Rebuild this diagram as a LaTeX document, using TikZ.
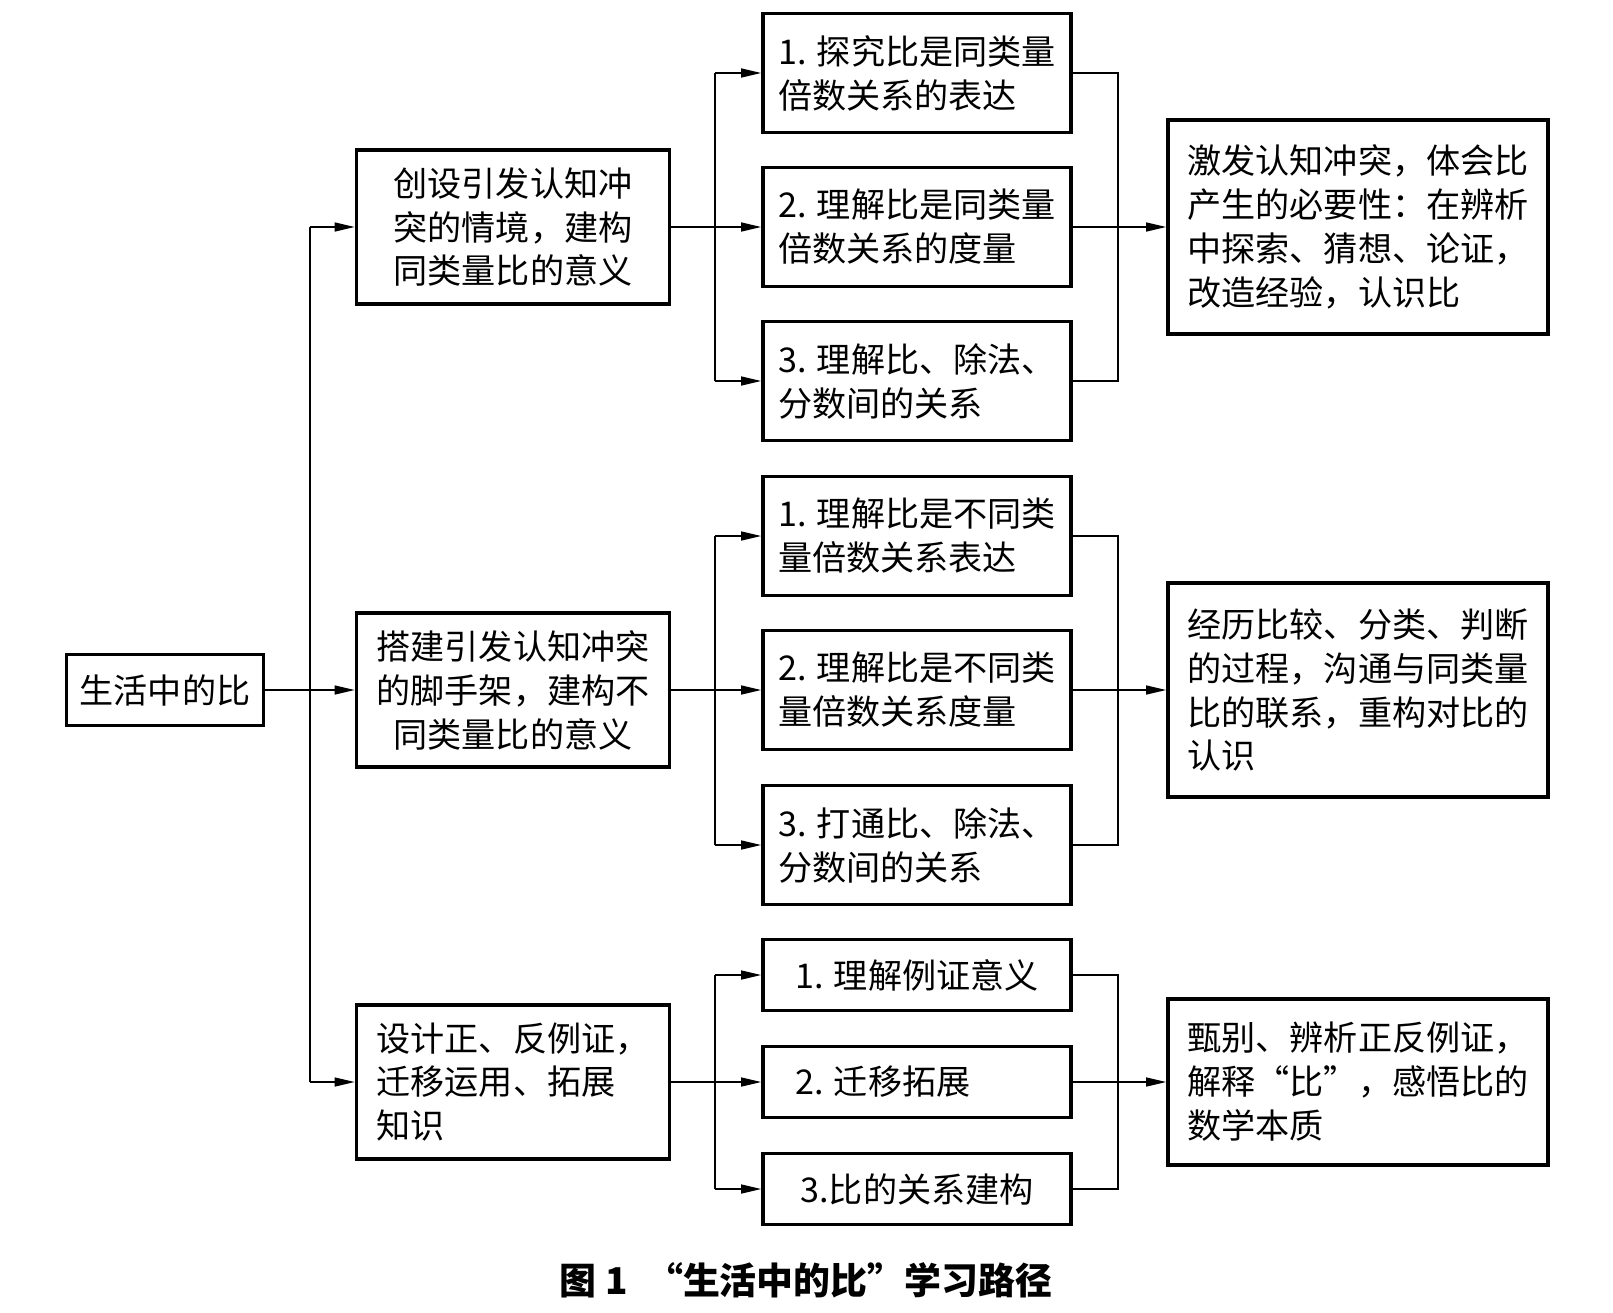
\documentclass[tikz,border=0pt]{standalone}
\usepackage{fontspec}
\newfontfamily\cjk{Noto Sans CJK SC}
\usetikzlibrary{arrows.meta, positioning}

\tikzset{
  box/.style={draw, line width=1pt, inner sep=2pt, align=left, font=\cjk\fontsize{9.7}{12.5}\selectfont},
  arr/.style={-{Triangle[length=2mm, width=0.9mm]}},
}

\begin{document}
\begin{tikzpicture}[x=0.01cm, y=-0.01cm, line width=0.4pt]

\pgfdeclarelayer{bg}    % lines behind the boxes
\pgfsetlayers{bg,main}

\useasboundingbox (0,0) rectangle (1613,1312);

% root
\node (root)[box, minimum width=1.97cm, minimum height=0.71cm] at (165,690) {生活中的比};

% second column
\node (m1)[box, align=center, minimum width=3.13cm, minimum height=1.54cm] at (513,227) {创设引发认知冲\\突的情境，建构\\同类量比的意义};
\node (m2)[box, align=center, minimum width=3.13cm, minimum height=1.54cm] at (513,690) {搭建引发认知冲突\\的脚手架，建构不\\同类量比的意义};
\node (m3)[box, minimum width=3.13cm, minimum height=1.54cm] at (513,1082) {设计正、反例证，\\迁移运用、拓展\\知识};

% third column
\node (s1a)[box, minimum width=3.08cm, minimum height=1.19cm] at (917,73) {1. 探究比是同类量\\倍数关系的表达};
\node (s1b)[box, minimum width=3.08cm, minimum height=1.19cm] at (917,227) {2. 理解比是同类量\\倍数关系的度量};
\node (s1c)[box, minimum width=3.08cm, minimum height=1.19cm] at (917,381) {3. 理解比、除法、\\分数间的关系};
\node (s2a)[box, minimum width=3.08cm, minimum height=1.19cm] at (917,536) {1. 理解比是不同类\\量倍数关系表达};
\node (s2b)[box, minimum width=3.08cm, minimum height=1.19cm] at (917,690) {2. 理解比是不同类\\量倍数关系度量};
\node (s2c)[box, minimum width=3.08cm, minimum height=1.19cm] at (917,845) {3. 打通比、除法、\\分数间的关系};
\node (s3a)[box, minimum width=3.08cm, minimum height=0.71cm] at (917,975) {1. 理解例证意义};
\node (s3b)[box, minimum width=3.08cm, minimum height=0.71cm] at (917,1082) {2. 迁移拓展\phantom{义义}};
\node (s3c)[box, minimum width=3.08cm, minimum height=0.71cm] at (917,1189) {3.比的关系建构};

% right column
\node (r1)[box, minimum width=3.80cm, minimum height=2.14cm] at (1358,227) {激发认知冲突，体会比\\产生的必要性：在辨析\\中探索、猜想、论证，\\改造经验，认识比};
\node (r2)[box, minimum width=3.80cm, minimum height=2.14cm] at (1358,690) {经历比较、分类、判断\\的过程，沟通与同类量\\比的联系，重构对比的\\认识};
\node (r3)[box, minimum width=3.80cm, minimum height=1.66cm] at (1358,1082) {甄别、辨析正反例证，\\解释“比”，感悟比的\\数学本质};

% caption
\node (cap)[font=\cjk\bfseries\fontsize{10.5}{12}\selectfont] at (806,1280) {图 1\enspace “生活中的比”学习路径};

\coordinate (t1) at (310,227);
\coordinate (t3) at (310,1082);
\coordinate (b1a) at (715,73);
\coordinate (b1c) at (715,381);
\coordinate (b2a) at (715,536);
\coordinate (b2c) at (715,845);
\coordinate (b3a) at (715,975);
\coordinate (b3c) at (715,1189);
\coordinate (k1a) at (1118,73);
\coordinate (k1c) at (1118,381);
\coordinate (k2a) at (1118,536);
\coordinate (k2c) at (1118,845);
\coordinate (k3a) at (1118,975);
\coordinate (k3c) at (1118,1189);

\begin{pgfonlayer}{bg}
\draw[arr] (root) -- (m2);
\draw (t1) -- (t3);
\draw[arr] (t1) -- (m1);
\draw[arr] (t3) -- (m3);

\draw[arr] (m1) -- (s1b);
\draw (b1a) -- (b1c);
\draw[arr] (b1a) -- (s1a);
\draw[arr] (b1c) -- (s1c);
\draw[arr] (m2) -- (s2b);
\draw (b2a) -- (b2c);
\draw[arr] (b2a) -- (s2a);
\draw[arr] (b2c) -- (s2c);
\draw[arr] (m3) -- (s3b);
\draw (b3a) -- (b3c);
\draw[arr] (b3a) -- (s3a);
\draw[arr] (b3c) -- (s3c);

\draw (s1a) -- (k1a) -- (k1c) -- (s1c);
\draw[arr] (s1b) -- (r1);
\draw (s2a) -- (k2a) -- (k2c) -- (s2c);
\draw[arr] (s2b) -- (r2);
\draw (s3a) -- (k3a) -- (k3c) -- (s3c);
\draw[arr] (s3b) -- (r3);
\end{pgfonlayer}
\end{tikzpicture}
\end{document}
